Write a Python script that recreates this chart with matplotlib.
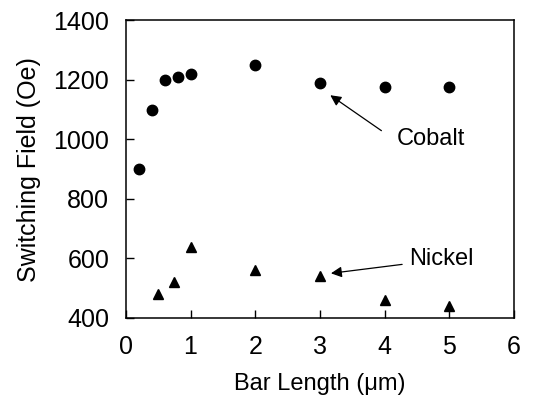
import numpy as np
import matplotlib.pyplot as plt

plt.rcParams['font.family'] = ['Liberation Sans', 'DejaVu Sans']

# Cobalt data
cobalt_x = [0.2, 0.4, 0.6, 0.8, 1.0, 2.0, 3.0, 4.0, 5.0]
cobalt_y = [900, 1100, 1200, 1210, 1220, 1250, 1190, 1175, 1175]

# Nickel data
nickel_x = [0.5, 0.75, 1.0, 2.0, 3.0, 4.0, 5.0]
nickel_y = [480, 520, 640, 560, 540, 460, 440]

x_ticks = [0, 1, 2, 3, 4, 5, 6]
y_ticks = [400, 600, 800, 1000, 1200, 1400]

fig = plt.figure(figsize=(5.4, 3.96), dpi=100)
ax = fig.add_axes([0.233, 0.197, 0.719, 0.752])

ax.plot(cobalt_x, cobalt_y, 'o', color='black', markersize=7.5, clip_on=False)
ax.plot(nickel_x, nickel_y, '^', color='black', markersize=7, clip_on=False)

ax.set_xlim(0, 6)
ax.set_ylim(400, 1400)
ax.set_xticks(x_ticks)
ax.set_yticks(y_ticks)
ax.tick_params(direction='in', length=6, width=1, labelsize=18, pad=12)

for s in ax.spines.values():
    s.set_linewidth(1.1)

ax.set_xlabel('Bar Length (\u03bcm)', fontsize=17, labelpad=10)
ax.set_ylabel('Switching Field (Oe)', fontsize=18, labelpad=9)

# Annotations
arrow = dict(arrowstyle='-|>', color='black', lw=0.9,
             shrinkA=0, shrinkB=0, mutation_scale=16)
ax.annotate('', xy=(3.16, 1148), xytext=(3.95, 1029), arrowprops=arrow)
ax.text(4.18, 1000, 'Cobalt', fontsize=17, ha='left', va='center')
ax.annotate('', xy=(3.17, 550), xytext=(4.27, 580), arrowprops=arrow)
ax.text(4.38, 598, 'Nickel', fontsize=17, ha='left', va='center')

plt.savefig('out.png', dpi=100)
